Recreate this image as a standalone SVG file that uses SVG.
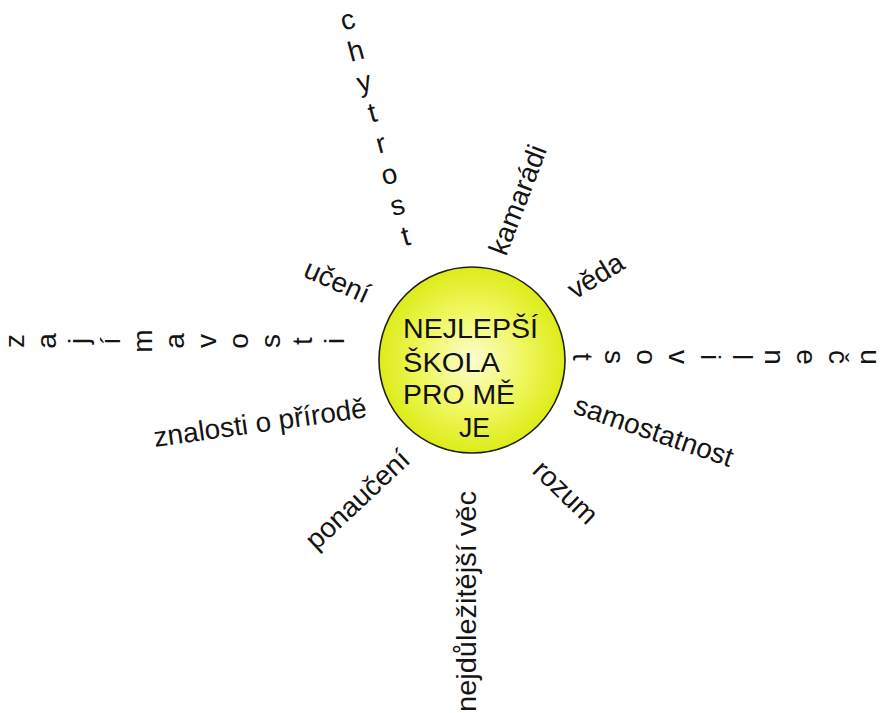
<svg xmlns="http://www.w3.org/2000/svg" width="880" height="713" viewBox="0 0 880 713">
<style>
  .lbl { font-family: "Liberation Sans", Arial, sans-serif; font-size: 28px; fill: #141414; }
  .ctr { font-family: "Liberation Sans", Arial, sans-serif; font-size: 27px; fill: #111; }
</style>
<defs>
  <radialGradient id="sun" cx="0.5" cy="0.5" r="0.5">
    <stop offset="0" stop-color="#fcfdd0"/>
    <stop offset="0.55" stop-color="#f0f760"/>
    <stop offset="1" stop-color="#dcec18"/>
  </radialGradient>
</defs>
<rect width="880" height="713" fill="#ffffff"/>
<g id="connectors"/>
<g id="center">
  <circle cx="472" cy="360" r="93" fill="url(#sun)" stroke="#1e1e1e" stroke-width="1.6"/>
  <text class="ctr" x="403" y="338" textLength="135" lengthAdjust="spacingAndGlyphs">NEJLEPŠÍ</text>
  <text class="ctr" x="403" y="372" textLength="97" lengthAdjust="spacingAndGlyphs">ŠKOLA</text>
  <text class="ctr" x="403" y="404" textLength="112" lengthAdjust="spacingAndGlyphs">PRO MĚ</text>
  <text class="ctr" x="459" y="437" textLength="31" lengthAdjust="spacingAndGlyphs">JE</text>
</g>
<g id="chytrost">
  <text class="lbl" transform="translate(350,29) rotate(-15)" text-anchor="middle" x="0 0 0 0 0 0 0 0" y="0 32 64 96 128 160 192 224">chytrost</text>
</g>
<g id="kamaradi">
  <text class="lbl" transform="translate(506,257) rotate(-69)">kamarádi</text>
</g>
<g id="uceni">
  <text class="lbl" transform="translate(302,276) rotate(24)">učení</text>
</g>
<g id="veda">
  <text class="lbl" transform="translate(575,300) rotate(-32)">věda</text>
</g>
<g id="zajimavosti">
  <text class="lbl" transform="translate(23.5,341) rotate(-90)" text-anchor="middle" x="0 0 0 0 0 0 0 0 0 0 0" y="0 32 64 96 128 160 192 224 256 288 320">zajímavosti</text>
</g>
<g id="ucenlivost">
  <text class="lbl" transform="translate(861,357) rotate(90)" text-anchor="middle" x="0 0 0 0 0 0 0 0 0 0" y="0 32 64 96 128 160 192 224 256 288">učenlivost</text>
</g>
<g id="znalosti">
  <text class="lbl" transform="translate(155,447) rotate(-8)">znalosti o přírodě</text>
</g>
<g id="samostatnost">
  <text class="lbl" transform="translate(572,413) rotate(19)">samostatnost</text>
</g>
<g id="ponauceni">
  <text class="lbl" transform="translate(316,551) rotate(-43)">ponaučení</text>
</g>
<g id="nejdulezitejsi">
  <text class="lbl" transform="translate(476,712) rotate(-90)" textLength="221" lengthAdjust="spacingAndGlyphs">nejdůležitější věc</text>
</g>
<g id="rozum">
  <text class="lbl" transform="translate(531,472) rotate(44)">rozum</text>
</g>
</svg>
